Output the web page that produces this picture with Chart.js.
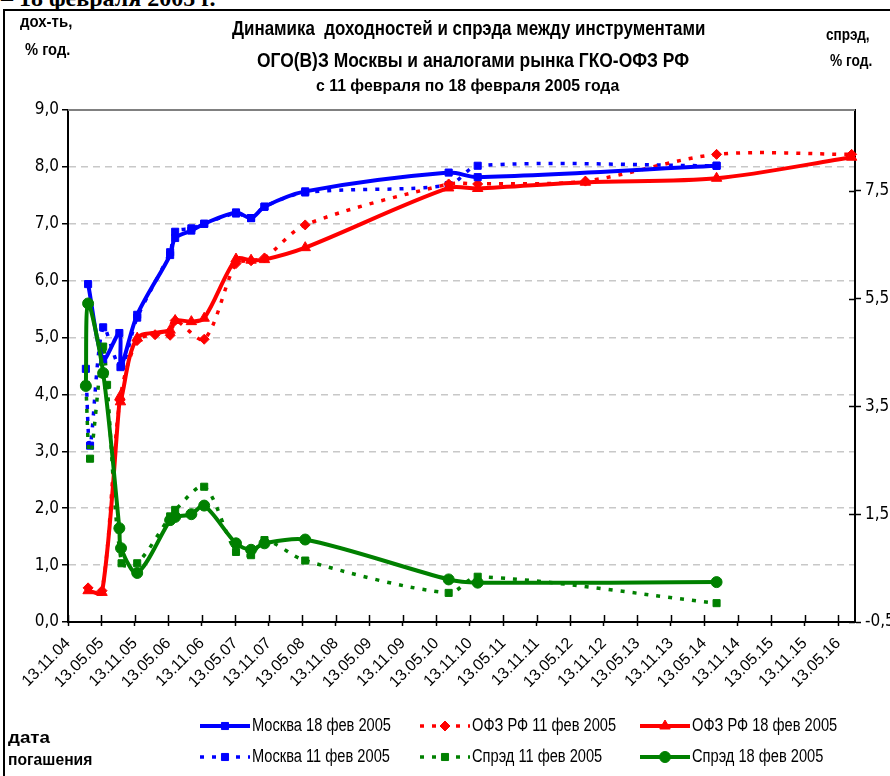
<!DOCTYPE html>
<html lang="ru">
<head>
<meta charset="utf-8">
<title>Динамика доходностей и спрэда</title>
<script src="https://cdn.jsdelivr.net/npm/chart.js@4.4.1/dist/chart.umd.min.js"></script>
<style>
  html, body { margin: 0; padding: 0; background: #fff; }
  body {
    width: 890px; height: 776px; overflow: hidden; position: relative;
    font-family: "Liberation Sans", Arial, sans-serif;
    color: #000;
  }
  #chart { position: absolute; left: 0; top: 0; }
  #frame { position: absolute; left: 3px; top: 9px; width: 1000px; height: 1000px;
           border-left: 2px solid #000; border-top: 2px solid #000; }
  #cut { position: absolute; left: 1px; top: -14px; font: bold 24px/24px "Liberation Serif", "Times New Roman", serif; white-space: nowrap; }
  .t { position: absolute; font-weight: bold; white-space: nowrap; transform-origin: 0 0; }
</style>
</head>
<body>
<div id="cut">– 18 февраля 2005 г.</div>
<div id="frame"></div>
<canvas id="chart" width="920" height="776"></canvas>

<div class="t" data-l="232" data-w="473" style="top:16px;font-size:21px;line-height:24px;">Динамика&nbsp; доходностей и спрэда между инструментами</div>
<div class="t" data-l="257" data-w="432" style="top:48px;font-size:21px;line-height:24px;">ОГО(В)З Москвы и аналогами рынка ГКО-ОФЗ РФ</div>
<div class="t" data-l="316" data-w="303" style="top:76px;font-size:17px;line-height:20px;">с 11 февраля по 18 февраля 2005 года</div>

<div class="t" data-l="20" data-w="52" style="top:12px;font-size:17px;line-height:20px;">дох-ть,</div>
<div class="t" data-l="25" data-w="45" style="top:40px;font-size:17px;line-height:20px;">% год.</div>
<div class="t" data-l="826" data-w="44" style="top:25px;font-size:17px;line-height:20px;">спрэд,</div>
<div class="t" data-l="830" data-w="42" style="top:51px;font-size:17px;line-height:20px;">% год.</div>
<div class="t" data-l="8" data-w="42" style="top:728px;font-size:17px;line-height:20px;">дата</div>
<div class="t" data-l="8" data-w="84" style="top:750px;font-size:17px;line-height:20px;">погашения</div>

<script>
// squeeze the narrow-font labels to the widths they have in the picture
document.querySelectorAll('.t').forEach(el => {
  el.style.left = el.dataset.l + 'px';
  const k = Number(el.dataset.w) / el.offsetWidth;
  el.style.transform = 'scaleX(' + k.toFixed(3) + ')';
});

const NARROW = '"DejaVu Sans Condensed", "Liberation Sans", sans-serif';
const REGULAR = '"Liberation Sans", Arial, sans-serif';

// x is measured in months from 13.11.2004
const xTickLabels = ['13.11.04', '13.05.05', '13.11.05', '13.05.06', '13.11.06', '13.05.07',
  '13.11.07', '13.05.08', '13.11.08', '13.05.09', '13.11.09', '13.05.10', '13.11.10', '13.05.11',
  '13.11.11', '13.05.12', '13.11.12', '13.05.13', '13.11.13', '13.05.14', '13.11.14', '13.05.15',
  '13.11.15', '13.05.16'];
const xTickMonths = [0, 6, 12, 18, 24, 30, 36, 42, 48, 54, 60, 66, 72, 78, 84, 90, 96, 102, 108, 114, 120, 126, 132, 138];
const xMaxMonths = 141;

const yLeftTicks = [0, 1, 2, 3, 4, 5, 6, 7, 8, 9];
const yLeftLabels = ['0,0', '1,0', '2,0', '3,0', '4,0', '5,0', '6,0', '7,0', '8,0', '9,0'];
const yRightTicks = [-0.5, 1.5, 3.5, 5.5, 7.5];
const yRightLabels = ['-0,5', '1,5', '3,5', '5,5', '7,5'];

// Москва 18 фев 2005
const moscow18Months = [3.6, 6.3, 9.2, 9.5, 12.4, 18.3, 19.2, 22.1, 24.4, 30.1, 32.8, 35.2, 42.5, 68.2, 73.4, 116.2];
const moscow18Yield  = [5.94, 4.62, 5.08, 4.50, 5.40, 6.45, 6.75, 6.88, 7.00, 7.20, 7.10, 7.30, 7.57, 7.90, 7.82, 8.02];

// Москва 11 фев 2005
const moscow11Months = [3.2, 3.95, 6.3, 9.4, 12.4, 18.3, 19.2, 22.1, 24.4, 30.1, 32.8, 35.2, 42.5, 68.2, 73.4, 116.2];
const moscow11Yield  = [4.45, 3.10, 5.18, 4.48, 5.35, 6.50, 6.86, 6.92, 7.00, 7.18, 7.10, 7.30, 7.55, 7.68, 8.02, 8.02];

// ОФЗ РФ 18 фев 2005
const ofz18Months = [3.6, 6.1, 9.3, 9.4, 12.4, 18.3, 19.2, 22.1, 24.4, 30.1, 32.8, 35.2, 42.5, 68.2, 73.4, 92.7, 116.2, 140.4];
const ofz18Yield  = [0.55, 0.52, 3.96, 3.87, 4.99, 5.13, 5.30, 5.28, 5.34, 6.38, 6.36, 6.37, 6.58, 7.63, 7.62, 7.73, 7.80, 8.17];

// ОФЗ РФ 11 фев 2005
const ofz11Months = [3.6, 6.1, 9.3, 12.4, 15.6, 18.3, 19.2, 24.4, 30.1, 32.8, 35.2, 42.5, 68.2, 73.4, 92.7, 116.2, 140.4];
const ofz11Yield  = [0.60, 0.55, 3.90, 4.95, 5.05, 5.04, 5.30, 4.97, 6.30, 6.35, 6.40, 6.98, 7.70, 7.70, 7.75, 8.22, 8.22];

// Спрэд 11 фев 2005 (right axis)
const spread11Months = [3.2, 3.95, 6.3, 7.0, 9.6, 12.4, 18.3, 19.2, 24.4, 30.1, 32.8, 35.2, 42.5, 68.2, 73.4, 116.2];
const spread11Value  = [3.90, 2.53, 4.61, 3.90, 0.59, 0.59, 1.46, 1.58, 2.01, 0.80, 0.74, 1.02, 0.64, 0.04, 0.34, -0.15];

// Спрэд 18 фев 2005 (right axis)
const spread18Months = [3.2, 3.6, 6.3, 9.2, 9.5, 12.4, 18.3, 19.2, 22.1, 24.4, 30.1, 32.8, 35.2, 42.5, 68.2, 73.4, 116.2];
const spread18Value  = [3.88, 5.41, 4.12, 1.24, 0.87, 0.41, 1.39, 1.45, 1.50, 1.66, 0.96, 0.84, 0.96, 1.03, 0.29, 0.23, 0.24];

const BLUE = '#0000ff';
const RED = '#ff0000';
const GREEN = '#008000';
const DOTS = [4, 8];

const pts = (xs, ys) => xs.map((x, i) => ({ x, y: ys[i] }));

// plot area in canvas pixels
const PLOT_LEFT = 68, PLOT_RIGHT = 855, PLOT_TOP = 110, PLOT_BOTTOM = 622;
const CANVAS_W = 920, CANVAS_H = 776;

const legendCols = [200, 420, 640];
const legendRows = [726, 757];
const LEGEND_FONT = '18px ' + REGULAR;

const excelLegend = {
  id: 'excelLegend',
  afterDraw(chart) {
    const ctx = chart.ctx;
    ctx.save();
    ctx.font = LEGEND_FONT;
    const squeeze = 139 / ctx.measureText('Москва 18 фев 2005').width;
    ctx.restore();
    chart.data.datasets.forEach((ds, i) => {
      const x = legendCols[i % 3];
      const y = legendRows[Math.floor(i / 3)];
      ctx.save();
      ctx.strokeStyle = ds.borderColor;
      ctx.lineWidth = ds.borderWidth;
      ctx.setLineDash(ds.borderDash || []);
      ctx.beginPath();
      ctx.moveTo(x, y);
      ctx.lineTo(x + 50, y);
      ctx.stroke();
      ctx.setLineDash([]);
      ctx.fillStyle = ds.backgroundColor;
      ctx.lineWidth = 1;
      Chart.helpers.drawPoint(ctx, { pointStyle: ds.pointStyle, radius: ds.pointRadius, rotation: 0, borderWidth: 1 }, x + 25, y);
      ctx.translate(x + 52, y);
      ctx.scale(squeeze, 1);
      ctx.fillStyle = '#000';
      ctx.font = LEGEND_FONT;
      ctx.textBaseline = 'middle';
      ctx.textAlign = 'left';
      ctx.fillText(ds.label, 0, 0);
      ctx.restore();
    });
  }
};

// solid grey line on top of the plot area, and tick marks crossing into the plot
const plotFrame = {
  id: 'plotFrame',
  beforeDatasetsDraw(chart) {
    const { ctx, chartArea, scales } = chart;
    ctx.save();
    ctx.strokeStyle = '#808080';
    ctx.lineWidth = 2;
    ctx.beginPath();
    ctx.moveTo(chartArea.left, chartArea.top);
    ctx.lineTo(chartArea.right, chartArea.top);
    ctx.stroke();
    ctx.strokeStyle = '#000';
    ctx.lineWidth = 1.5;
    ctx.beginPath();
    scales.x.ticks.forEach(t => {
      const px = Math.round(scales.x.getPixelForValue(t.value)) + 0.5;
      ctx.moveTo(px, chartArea.bottom - 7);
      ctx.lineTo(px, chartArea.bottom);
    });
    scales.y2.ticks.forEach(t => {
      const py = Math.round(scales.y2.getPixelForValue(t.value)) + 0.5;
      ctx.moveTo(chartArea.right - 6, py);
      ctx.lineTo(chartArea.right, py);
    });
    ctx.stroke();
    ctx.restore();
  }
};

const common = { fill: false, tension: 0.3, clip: false, pointBorderWidth: 1 };

new Chart(document.getElementById('chart'), {
  type: 'line',
  data: {
    datasets: [
      { ...common, label: 'Москва 18 фев 2005', data: pts(moscow18Months, moscow18Yield),
        borderColor: BLUE, backgroundColor: BLUE, borderWidth: 4, pointStyle: 'rect', pointRadius: 5, yAxisID: 'y', order: 2 },
      { ...common, label: 'ОФЗ РФ 11 фев 2005', data: pts(ofz11Months, ofz11Yield),
        borderColor: RED, backgroundColor: RED, borderWidth: 3.5, borderDash: DOTS, pointStyle: 'rectRot', pointRadius: 5, yAxisID: 'y', order: 4 },
      { ...common, label: 'ОФЗ РФ 18 фев 2005', data: pts(ofz18Months, ofz18Yield),
        borderColor: RED, backgroundColor: RED, borderWidth: 4, pointStyle: 'triangle', pointRadius: 6, yAxisID: 'y', order: 1 },
      { ...common, label: 'Москва 11 фев 2005', data: pts(moscow11Months, moscow11Yield),
        borderColor: BLUE, backgroundColor: BLUE, borderWidth: 3.5, borderDash: DOTS, pointStyle: 'rect', pointRadius: 5, yAxisID: 'y', order: 5 },
      { ...common, label: 'Спрэд 11 фев 2005', data: pts(spread11Months, spread11Value),
        borderColor: GREEN, backgroundColor: GREEN, borderWidth: 3.5, borderDash: DOTS, pointStyle: 'rect', pointRadius: 5, yAxisID: 'y2', order: 3 },
      { ...common, label: 'Спрэд 18 фев 2005', data: pts(spread18Months, spread18Value),
        borderColor: GREEN, backgroundColor: GREEN, borderWidth: 4, pointStyle: 'circle', pointRadius: 5.5, yAxisID: 'y2', order: 0 }
    ]
  },
  options: {
    responsive: false,
    animation: false,
    devicePixelRatio: 1,
    layout: { padding: { left: 0, right: 0, top: PLOT_TOP, bottom: 0 } },
    plugins: {
      legend: { display: false },
      title: { display: false },
      tooltip: { enabled: false }
    },
    scales: {
      x: {
        type: 'linear',
        position: 'bottom',
        min: 0,
        max: xMaxMonths,
        afterBuildTicks: (scale) => { scale.ticks = xTickMonths.map(v => ({ value: v })); },
        afterFit: (scale) => { scale.height = CANVAS_H - PLOT_BOTTOM; },
        ticks: {
          autoSkip: false,
          maxRotation: 45,
          minRotation: 45,
          padding: 8,
          color: '#000',
          font: { family: REGULAR, size: 16 },
          callback: (value, index) => xTickLabels[index]
        },
        grid: { drawOnChartArea: false, drawTicks: true, tickLength: 4, tickColor: '#000', tickWidth: 1.5 },
        border: { display: true, color: '#000', width: 2 }
      },
      y: {
        type: 'linear',
        position: 'left',
        min: 0,
        max: 9,
        afterBuildTicks: (scale) => { scale.ticks = yLeftTicks.map(v => ({ value: v })); },
        afterFit: (scale) => { scale.width = PLOT_LEFT; },
        ticks: {
          padding: 3,
          color: '#000',
          font: { family: NARROW, size: 17 },
          callback: (value, index) => yLeftLabels[index]
        },
        grid: {
          color: (c) => (c.tick && (c.tick.value === 0 || c.tick.value === 9)) ? 'rgba(0,0,0,0)' : '#c8c8c8',
          lineWidth: 1.5,
          drawTicks: true,
          tickLength: 6,
          tickColor: '#000',
          tickWidth: 1.5
        },
        border: { display: true, color: '#000', width: 2, dash: [7, 5] }
      },
      y2: {
        type: 'linear',
        position: 'right',
        min: -0.5,
        max: 9,
        afterBuildTicks: (scale) => { scale.ticks = yRightTicks.map(v => ({ value: v })); },
        afterFit: (scale) => { scale.width = CANVAS_W - PLOT_RIGHT; },
        ticks: {
          padding: 4,
          color: '#000',
          font: { family: NARROW, size: 17 },
          callback: (value, index) => yRightLabels[index]
        },
        grid: { drawOnChartArea: false, drawTicks: true, tickLength: 6, tickColor: '#000', tickWidth: 1.5 },
        border: { display: true, color: '#000', width: 2 }
      }
    }
  },
  plugins: [plotFrame, excelLegend]
});
</script>
</body>
</html>
